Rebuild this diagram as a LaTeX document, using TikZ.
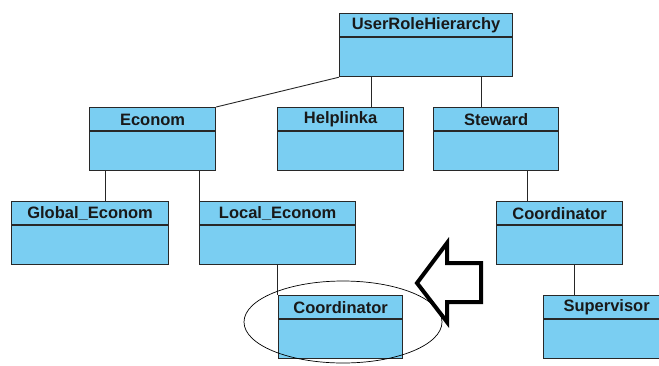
\documentclass[tikz,border=0pt]{standalone}
\usepackage{fontspec}
\setmainfont{Liberation Sans}
\definecolor{classfill}{RGB}{122,206,242}
\definecolor{classline}{RGB}{40,40,40}
\definecolor{classtext}{RGB}{25,25,25}
\tikzset{
  classbox/.style={draw=classline, fill=classfill, line width=1.2pt, inner sep=0pt, anchor=north west, minimum height=63pt},
  classtitle/.style={font=\bfseries\fontsize{16.5}{18}\selectfont, text=classtext, inner sep=0pt, anchor=center},
  link/.style={draw=black!85, line width=0.9pt},
}
% \umlclass{name}{left}{top}{width}{title}
\newcommand{\umlclass}[5]{%
  \node[classbox, minimum width=#4pt] (#1) at (#2,#3) {};
  \draw[draw=classline, line width=1.2pt] ([yshift=-24pt]#1.north west) -- ([yshift=-24pt]#1.north east);
  \node[classtitle] (#1-title) at ([yshift=-12.5pt]#1.north) {#5};
}
\begin{document}
\begin{tikzpicture}[x=1pt,y=-1pt]
\useasboundingbox (0,0) rectangle (659,365);

% classes
\umlclass{urh}{339}{13}{173}{UserRoleHierarchy}
\umlclass{econ}{89}{107}{126}{Econom}
\umlclass{help}{277}{107}{126}{Helplinka}
\umlclass{stew}{433}{107}{125}{Steward}
\umlclass{glob}{11}{201}{157}{Global\_Econom}
\umlclass{local}{199}{201}{156}{Local\_Econom}
\umlclass{coordR}{496}{201}{126}{Coordinator}
\umlclass{coordL}{278}{295}{124}{Coordinator}
\umlclass{sup}{543}{295}{126}{Supervisor}

% hierarchy links
\draw[link] (urh.south west) -- (econ.north east);
\draw[link] ([xshift=32pt]urh.south west) -- ([xshift=32pt]urh.south west |- help.north);
\draw[link] ([xshift=142pt]urh.south west) -- ([xshift=142pt]urh.south west |- stew.north);
\draw[link] ([xshift=16pt]econ.south west) -- ([xshift=16pt]econ.south west |- glob.north);
\draw[link] ([xshift=110pt]econ.south west) -- ([xshift=110pt]econ.south west |- local.north);
\draw[link] ([xshift=78pt]local.south west) -- ([xshift=78pt]local.south west |- coordL.north);
\draw[link] ([xshift=94pt]stew.south west) -- ([xshift=94pt]stew.south west |- coordR.north);
\draw[link] ([xshift=78pt]coordR.south west) -- ([xshift=78pt]coordR.south west |- sup.north);

% highlight around the lower Coordinator
\draw[black, line width=0.7pt] (343,322) ellipse [x radius=99, y radius=41];

% hollow pointer arrow
\draw[black, line width=4pt, line join=miter, fill=white]
  (417,283) -- (447,243) -- (447,263) -- (481,263) -- (481,302) -- (447,302) -- (447,322) -- cycle;
\end{tikzpicture}
\end{document}
